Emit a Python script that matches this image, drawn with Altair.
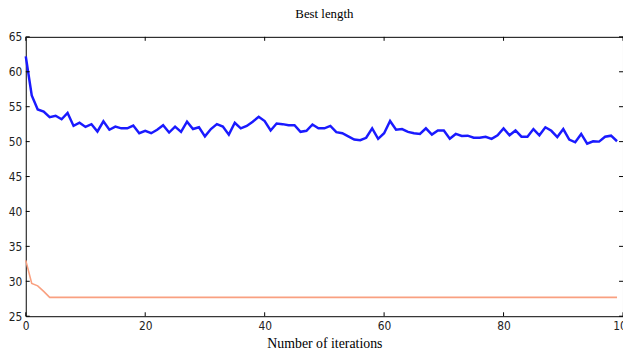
import altair as alt
import pandas as pd

# ---- data ----
iterations = list(range(100))

mean_length = [
    62.2, 56.6, 54.6, 54.3, 53.5, 53.7, 53.2, 54.1, 52.25, 52.7,
    52.1, 52.5, 51.45, 52.9, 51.7, 52.15, 51.9, 51.9, 52.3, 51.2,
    51.55, 51.2, 51.7, 52.35, 51.3, 52.15, 51.4, 52.85, 51.8, 52.05,
    50.75, 51.8, 52.5, 52.15, 51.0, 52.7, 51.9, 52.25, 52.85, 53.55,
    52.95, 51.6, 52.6, 52.5, 52.35, 52.35, 51.4, 51.55, 52.45, 51.9,
    51.9, 52.25, 51.35, 51.2, 50.75, 50.3, 50.2, 50.55, 51.9, 50.4,
    51.2, 52.95, 51.7, 51.8, 51.4, 51.2, 51.1, 51.9, 51.0, 51.6,
    51.6, 50.4, 51.1, 50.8, 50.85, 50.55, 50.55, 50.7, 50.4, 50.9,
    51.9, 50.9, 51.6, 50.7, 50.7, 51.8, 50.9, 52.05, 51.55, 50.65,
    51.8, 50.3, 49.9, 51.1, 49.7, 50.05, 50.0, 50.7, 50.85, 50.05,
]

best_length = [
    33.0, 29.7, 29.35, 28.55, 27.7, 27.7, 27.7, 27.7, 27.7, 27.7,
    27.7, 27.7, 27.7, 27.7, 27.7, 27.7, 27.7, 27.7, 27.7, 27.7,
    27.7, 27.7, 27.7, 27.7, 27.7, 27.7, 27.7, 27.7, 27.7, 27.7,
    27.7, 27.7, 27.7, 27.7, 27.7, 27.7, 27.7, 27.7, 27.7, 27.7,
    27.7, 27.7, 27.7, 27.7, 27.7, 27.7, 27.7, 27.7, 27.7, 27.7,
    27.7, 27.7, 27.7, 27.7, 27.7, 27.7, 27.7, 27.7, 27.7, 27.7,
    27.7, 27.7, 27.7, 27.7, 27.7, 27.7, 27.7, 27.7, 27.7, 27.7,
    27.7, 27.7, 27.7, 27.7, 27.7, 27.7, 27.7, 27.7, 27.7, 27.7,
    27.7, 27.7, 27.7, 27.7, 27.7, 27.7, 27.7, 27.7, 27.7, 27.7,
    27.7, 27.7, 27.7, 27.7, 27.7, 27.7, 27.7, 27.7, 27.7, 27.7,
]

x_ticks = [0, 20, 40, 60, 80, 100]
y_ticks = [25, 30, 35, 40, 45, 50, 55, 60, 65]

W, H = 605, 283
LABEL_FONT = "Liberation Sans Narrow, DejaVu Sans Condensed, DejaVu Sans"
SERIF = "Liberation Serif"

# long table: one row per point, series kept apart
df = pd.DataFrame({
    "iter": iterations + iterations,
    "value": mean_length + best_length,
    "series": ["mean"] * len(mean_length) + ["best"] * len(best_length),
})
xdf = pd.DataFrame({"iter": x_ticks})
ydf = pd.DataFrame({"value": y_ticks})

xscale = alt.Scale(domain=[0, 100], nice=False, zero=False)
yscale = alt.Scale(domain=[25, 65], nice=False, zero=False)

xaxis = alt.Axis(values=x_ticks, format="d", grid=False, domain=False, ticks=False,
                 tickSize=0, labelFlush=False, labelFont=LABEL_FONT, labelFontSize=12,
                 labelColor="#222222", labelPadding=4, title="Number of iterations",
                 titleFont=SERIF, titleFontSize=14, titleFontWeight="normal",
                 titleColor="black", titlePadding=6)
yaxis = alt.Axis(values=y_ticks, format="d", grid=False, domain=False, ticks=False,
                 tickSize=0, labelFlush=False, labelFont=LABEL_FONT, labelFontSize=12,
                 labelColor="#222222", labelPadding=4, title=None)

X = alt.X("iter:Q", scale=xscale, axis=xaxis, title="Number of iterations")
Y = alt.Y("value:Q", scale=yscale, axis=yaxis, title=None)

lines = alt.Chart(df).mark_line().encode(
    x=X, y=Y,
    color=alt.Color("series:N", scale=alt.Scale(domain=["mean", "best"],
                                                range=["#1a1aff", "#f9a080"]),
                    legend=None),
    strokeWidth=alt.StrokeWidth("series:N", scale=alt.Scale(domain=["mean", "best"],
                                                           range=[2.5, 1.6]),
                                legend=None),
)

tick_len = 4
bottom_ticks = alt.Chart(xdf).mark_rule(color="black", strokeWidth=1).encode(
    x=X, y=alt.value(H), y2=alt.value(H - tick_len))
top_ticks = alt.Chart(xdf).mark_rule(color="black", strokeWidth=1).encode(
    x=X, y=alt.value(0), y2=alt.value(tick_len))
left_ticks = alt.Chart(ydf).mark_rule(color="black", strokeWidth=1).encode(
    y=Y, x=alt.value(0), x2=alt.value(tick_len))
right_ticks = alt.Chart(ydf).mark_rule(color="black", strokeWidth=1).encode(
    y=Y, x=alt.value(W), x2=alt.value(W - tick_len))

chart = alt.layer(
    lines, bottom_ticks, top_ticks, left_ticks, right_ticks
).properties(
    width=W, height=H,
    background="white",
    title=alt.TitleParams("Best length", font=SERIF, fontSize=13, fontWeight="normal",
                          color="black", anchor="middle", offset=10),
    autosize=alt.AutoSizeParams(type="none"),
    padding={"left": 18, "top": 27, "right": 0, "bottom": 32},
).configure_view(
    stroke="black", strokeWidth=1
)

chart.save("out.html", embed_options={"renderer": "svg", "actions": False})
